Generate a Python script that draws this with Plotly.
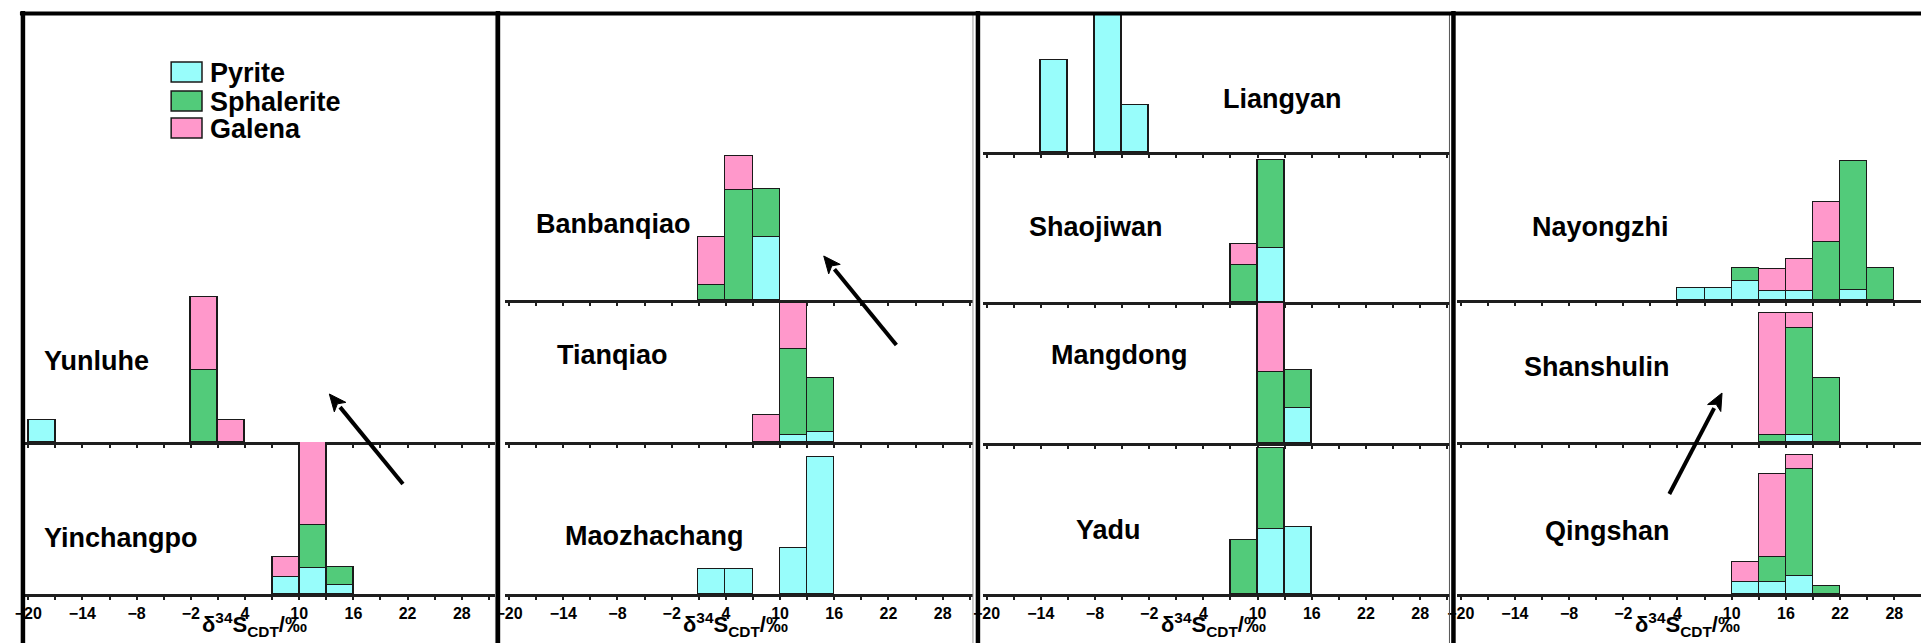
import math
import plotly.graph_objects as go

W, H = 1921, 643

# ---- data -------------------------------------------------------------
minerals = ["Pyrite", "Sphalerite", "Galena"]
mineral_colors = ["#98FDFB", "#52CB7A", "#FF98CB"]

# bins are 3 permil wide; each list gives the left edge of a bin
bin_width = 3
label_tick_start, label_tick_step = -20, 6
minor_tick_step = 3

yunluhe_bins = [-20, -2, 1]
yunluhe_pyrite = [2.2, 0, 0]
yunluhe_sphalerite = [0, 7.2, 0]
yunluhe_galena = [0, 7.3, 2.2]

yinchangpo_bins = [7, 10, 13]
yinchangpo_pyrite = [1.7, 2.6, 0.9]
yinchangpo_sphalerite = [0, 4.3, 1.8]
yinchangpo_galena = [2.0, 8.3, 0]

banbanqiao_bins = [1, 4, 7]
banbanqiao_pyrite = [0, 0, 6.3]
banbanqiao_sphalerite = [1.5, 11.0, 4.8]
banbanqiao_galena = [4.8, 3.4, 0]

tianqiao_bins = [7, 10, 13]
tianqiao_pyrite = [0, 0.7, 1.0]
tianqiao_sphalerite = [0, 8.6, 5.4]
tianqiao_galena = [2.7, 4.6, 0]

maozhachang_bins = [1, 4, 10, 13]
maozhachang_pyrite = [2.5, 2.5, 4.6, 13.7]
maozhachang_sphalerite = [0, 0, 0, 0]
maozhachang_galena = [0, 0, 0, 0]

liangyan_bins = [-14, -8, -5]
liangyan_pyrite = [9.2, 14.0, 4.7]
liangyan_sphalerite = [0, 0, 0]
liangyan_galena = [0, 0, 0]

shaojiwan_bins = [7, 10]
shaojiwan_pyrite = [0, 5.4]
shaojiwan_sphalerite = [3.7, 8.8]
shaojiwan_galena = [2.1, 0]

mangdong_bins = [10, 13]
mangdong_pyrite = [0, 3.5]
mangdong_sphalerite = [7.1, 3.8]
mangdong_galena = [6.9, 0]

yadu_bins = [7, 10, 13]
yadu_pyrite = [0, 6.5, 6.7]
yadu_sphalerite = [5.4, 8.1, 0]
yadu_galena = [0, 0, 0]

nayongzhi_bins = [4, 7, 10, 13, 16, 19, 22, 25]
nayongzhi_pyrite = [1.2, 1.2, 1.9, 0.9, 0.9, 0, 1.0, 0]
nayongzhi_sphalerite = [0, 0, 1.3, 0, 0, 5.8, 12.9, 3.2]
nayongzhi_galena = [0, 0, 0, 2.2, 3.2, 4.0, 0, 0]

shanshulin_bins = [13, 16, 19]
shanshulin_pyrite = [0, 0.7, 0]
shanshulin_sphalerite = [0.7, 10.7, 6.4]
shanshulin_galena = [12.2, 1.5, 0]

qingshan_bins = [10, 13, 16, 19]
qingshan_pyrite = [1.2, 1.2, 1.8, 0]
qingshan_sphalerite = [0, 2.5, 10.7, 0.8]
qingshan_galena = [2.0, 8.3, 1.4, 0]

# ---- layout helpers ----------------------------------------------------
FONT = "Liberation Sans, Arial, sans-serif"
X_PX_PER_UNIT = 9.08
Y_PX_PER_UNIT = 10.0
AXIS_COLOR = "#1e1e1e"


def px(x):
    return x / W


def py(y):
    return 1 - y / H


# pixel position of the -20 tick and right edge of every column
col_x20 = [18.3, 501.7, 981.7, 1458.3]
col_right = [487.7, 968.0, 1448.0, 1921.0]

# (column, top px, baseline px, name, data, label x px, label y px, bottom row)
panels = [
    (0, 292, 442, "Yunluhe",
     (yunluhe_bins, yunluhe_pyrite, yunluhe_sphalerite, yunluhe_galena), 87, 361, False),
    (0, 442, 594, "Yinchangpo",
     (yinchangpo_bins, yinchangpo_pyrite, yinchangpo_sphalerite, yinchangpo_galena), 112, 538, True),
    (1, 150, 300, "Banbanqiao",
     (banbanqiao_bins, banbanqiao_pyrite, banbanqiao_sphalerite, banbanqiao_galena), 607, 224, False),
    (1, 302, 442, "Tianqiao",
     (tianqiao_bins, tianqiao_pyrite, tianqiao_sphalerite, tianqiao_galena), 606, 355, False),
    (1, 442, 594, "Maozhachang",
     (maozhachang_bins, maozhachang_pyrite, maozhachang_sphalerite, maozhachang_galena), 648, 536, True),
    (2, 15, 152, "Liangyan",
     (liangyan_bins, liangyan_pyrite, liangyan_sphalerite, liangyan_galena), 1279, 99, False),
    (2, 152, 302, "Shaojiwan",
     (shaojiwan_bins, shaojiwan_pyrite, shaojiwan_sphalerite, shaojiwan_galena), 1092, 227, False),
    (2, 302, 443, "Mangdong",
     (mangdong_bins, mangdong_pyrite, mangdong_sphalerite, mangdong_galena), 1115, 355, False),
    (2, 443, 594, "Yadu",
     (yadu_bins, yadu_pyrite, yadu_sphalerite, yadu_galena), 1104, 530, True),
    (3, 150, 300, "Nayongzhi",
     (nayongzhi_bins, nayongzhi_pyrite, nayongzhi_sphalerite, nayongzhi_galena), 1599, 227, False),
    (3, 302, 442, "Shanshulin",
     (shanshulin_bins, shanshulin_pyrite, shanshulin_sphalerite, shanshulin_galena), 1595, 367, False),
    (3, 442, 594, "Qingshan",
     (qingshan_bins, qingshan_pyrite, qingshan_sphalerite, qingshan_galena), 1606, 531, True),
]

fig = go.Figure()
annotations = []
shapes = []
layout_axes = {}

for i, (col, top, base, name, data, lx, ly, bottom) in enumerate(panels, start=1):
    xa = "x" if i == 1 else f"x{i}"
    ya = "y" if i == 1 else f"y{i}"
    bins = data[0]
    for m, (mineral, color) in enumerate(zip(minerals, mineral_colors)):
        values = data[m + 1]
        xs = [b + bin_width / 2 for b, v in zip(bins, values) if v > 0]
        ys = [v for v in values if v > 0]
        if not xs:
            continue
        fig.add_trace(go.Bar(
            x=xs, y=ys, width=bin_width, name=mineral,
            marker=dict(color=color, line=dict(color="#1a1a1a", width=1.5)),
            xaxis=xa, yaxis=ya, showlegend=False,
        ))

    x20 = col_x20[col]
    left_px = x20 - 0.4 * X_PX_PER_UNIT
    right_px = col_right[col]
    x_max = -20 + (right_px - x20) / X_PX_PER_UNIT
    key_x = "xaxis" if i == 1 else f"xaxis{i}"
    key_y = "yaxis" if i == 1 else f"yaxis{i}"
    layout_axes[key_x] = dict(
        domain=[px(left_px), min(1.0, px(right_px))],
        range=[-20.4, x_max],
        anchor=ya,
        showline=True, linecolor=AXIS_COLOR, linewidth=3,
        tickmode="linear", tick0=label_tick_start, dtick=label_tick_step,
        ticks="outside", ticklen=3, tickwidth=2, tickcolor=AXIS_COLOR,
        minor=dict(tick0=label_tick_start, dtick=minor_tick_step,
                   ticks="outside", ticklen=3, tickwidth=2, tickcolor=AXIS_COLOR,
                   showgrid=False),
        showticklabels=bottom,
        tickfont=dict(family=FONT, size=16, color="black", weight="bold"),
        showgrid=False, zeroline=False, fixedrange=True,
    )
    layout_axes[key_y] = dict(
        domain=[py(base), py(top)],
        range=[0, (base - top) / Y_PX_PER_UNIT],
        anchor=xa, visible=False, fixedrange=True,
    )

    annotations.append(dict(
        x=px(lx), y=py(ly), xref="paper", yref="paper", text=name,
        showarrow=False, xanchor="center", yanchor="middle",
        font=dict(family=FONT, size=27, color="black", weight="bold"),
    ))

    if bottom:
        annotations.append(dict(
            x=5.1, y=py(607), xref=xa, yref="paper",
            text="δ<sup>34</sup>S<sub>CDT</sub>/‰",
            showarrow=False, xanchor="center", yanchor="top",
            font=dict(family=FONT, size=22, color="black", weight="bold"),
        ))

# arrows drawn as a shaft plus a filled head: (head x, head y, tail x, tail y) in px
arrows = [(321, 394, 395, 484), (818, 256, 891, 345), (1721, 393, 1668, 494)]
HEAD_LEN, HEAD_HALF = 17, 7.5
for hx, hy, tx, ty in arrows:
    length = math.hypot(hx - tx, hy - ty)
    dx, dy = (hx - tx) / length, (hy - ty) / length
    nx, ny = -dy, dx
    bx, by = hx - HEAD_LEN * dx, hy - HEAD_LEN * dy
    shapes.append(dict(type="line", xref="paper", yref="paper",
                       x0=px(tx), y0=py(ty), x1=px(bx), y1=py(by),
                       line=dict(color="black", width=4)))
    pts = [(hx, hy), (bx + HEAD_HALF * nx, by + HEAD_HALF * ny),
           (bx + 0.25 * HEAD_LEN * dx, by + 0.25 * HEAD_LEN * dy),
           (bx - HEAD_HALF * nx, by - HEAD_HALF * ny)]
    path = "M " + " L ".join(f"{px(a):.5f},{py(b):.5f}" for a, b in pts) + " Z"
    shapes.append(dict(type="path", xref="paper", yref="paper", path=path,
                       fillcolor="black", line=dict(color="black", width=1)))

# legend
legend_rows = [72, 101, 128]
for mineral, color, cy in zip(minerals, mineral_colors, legend_rows):
    shapes.append(dict(
        type="rect", xref="paper", yref="paper",
        x0=px(162), x1=px(193), y0=py(cy + 10), y1=py(cy - 10),
        fillcolor=color, line=dict(color="#1a1a1a", width=1.5),
    ))
    annotations.append(dict(
        x=px(199), y=py(cy + 1), xref="paper", yref="paper", text=mineral,
        showarrow=False, xanchor="left", yanchor="middle",
        font=dict(family=FONT, size=27, color="black", weight="bold"),
    ))

# frame: thin right edges of the first three columns, thick borders
for xr, c in [(488, "#9a9a9a"), (968, "#9a9a9a"), (1447, "#555555")]:
    shapes.append(dict(type="line", xref="paper", yref="paper",
                       x0=px(xr), x1=px(xr), y0=py(15), y1=0,
                       line=dict(color=c, width=1), layer="above"))
for xb in [13, 490.5, 973, 1451]:
    shapes.append(dict(type="line", xref="paper", yref="paper",
                       x0=px(xb), x1=px(xb), y0=py(11), y1=0,
                       line=dict(color="black", width=4.5), layer="above"))
shapes.append(dict(type="line", xref="paper", yref="paper",
                   x0=px(10), x1=1, y0=py(13.5), y1=py(13.5),
                   line=dict(color="black", width=4), layer="above"))

fig.update_layout(
    width=W, height=H,
    margin=dict(l=0, r=0, t=0, b=0),
    paper_bgcolor="white", plot_bgcolor="white",
    barmode="stack", bargap=0,
    showlegend=False,
    annotations=annotations,
    shapes=shapes,
    **layout_axes,
)

fig.write_html("out.html")
